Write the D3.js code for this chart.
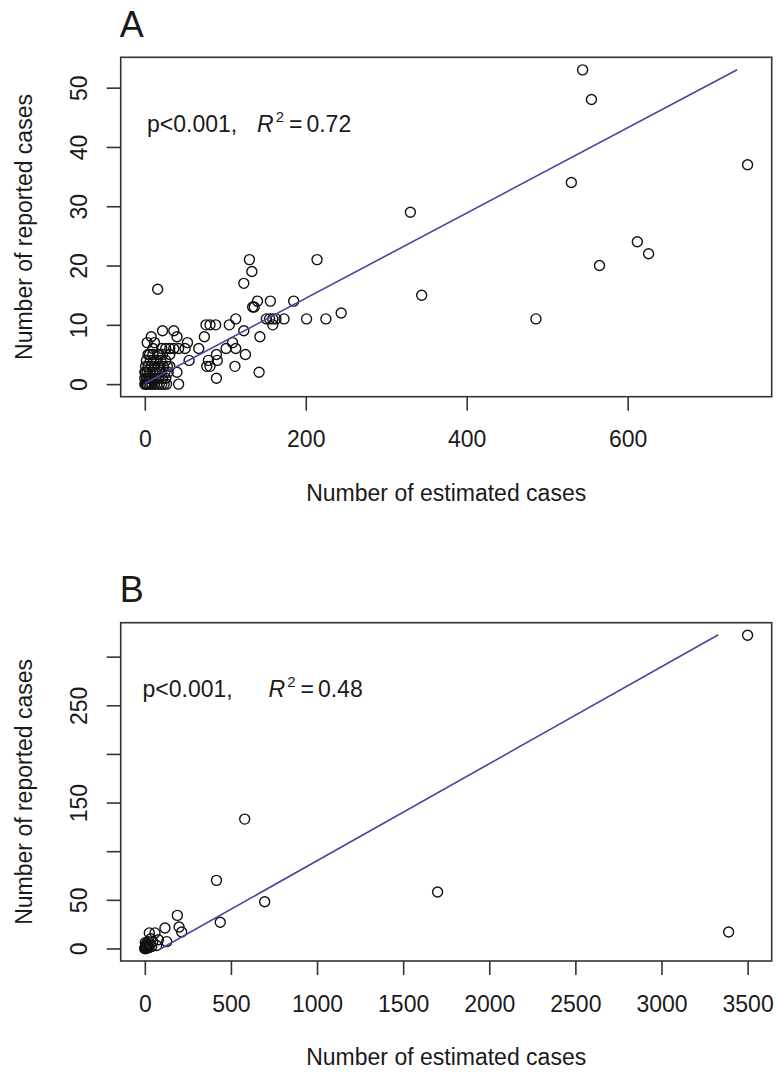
<!DOCTYPE html>
<html>
<head>
<meta charset="utf-8">
<script src="https://cdn.jsdelivr.net/npm/d3@7"></script>
<style>
  html, body { margin: 0; padding: 0; background: #fff; }
  svg { display: block; }
  text { font-family: "Liberation Sans", Arial, sans-serif; fill: #1a1a1a; }
</style>
</head>
<body>
<svg id="chart" width="776" height="1072"></svg>
<script>
// ---------------- DATA ----------------
// Panel A: [estimated, reported]
const pointsA = [
  [544,53],[555,48],[749,37],[530,34],[330,29],[214,21],[130,21],[133,19],[123,17],[16,16],
  [612,24],[626,22],[565,20],[344,15],[486,11],[244,12],[225,11],[201,11],[185,14],[173,11],
  [156,14],[140,14],[134,13],[136,13],[151,11],[155,11],[159,11],[163,11],[159,10],[113,11],
  [105,10],[123,9],[76,10],[81,10],[88,10],[74,8],[143,8],[109,7],[113,6],[101,6],
  [125,5],[89,5],[90,4],[77,3],[81,3],[79,4],[89,1],[112,3],[142,2],[55,4],
  [67,6],[53,7],[50,6],[42,6],[36,6],[31,6],[22,9],[36,9],[40,8],[12,7],
  [21,6],[6,5],[16,5],[22,5],[31,5],[42,0],[40,2],[31,3],
  [0,0],[1,0],[2,0],[3,0],[5,0],[7,0],[9,0],[12,0],[15,0],[18,0],[21,0],[24,0],[27,0],
  [0,1],[2,1],[4,1],[6,1],[9,1],[13,1],[17,1],[22,1],[26,1],
  [0,2],[1,2],[3,2],[6,2],[10,2],[14,2],[19,2],[25,2],[29,2],
  [1,3],[4,3],[8,3],[12,3],[17,3],[23,3],[28,3],
  [2,4],[7,4],[11,4],[15,4],[20,4],[26,4],
  [4,5],[10,5],[18,5],[26,6],[10,6],[3,7],[8,8]
];
// Panel B: [estimated, reported]
const pointsB = [
  [3500,322],[580,133],[416,70],[1700,58],[696,48],[438,27],[3390,17],[189,34],[199,22],[214,17],
  [117,21],[127,7],[59,16],[26,16],[79,9],[69,3],[46,7],[35,10],[12,5],[5,3],
  [2,1],[0,0],[8,0],[15,4],[20,2],[3,6],[25,1],[30,4],[40,2],[6,2],
  [1,0],[10,1],[4,0],[18,7]
];
// Fitted lines
const fitA = { intercept: 0.1, slope: 0.0719, from: 0, to: 736 };
const fitB = { intercept: -9.5, slope: 0.0997, from: 85, to: 3330 };

// Ticks
const xTicksA = [0, 200, 400, 600];
const yTicksA = [0, 10, 20, 30, 40, 50];
const xTicksB = [0, 500, 1000, 1500, 2000, 2500, 3000, 3500];
const yTicksB = [0, 50, 100, 150, 200, 250, 300];
const yTickLabelsB = ["0", "50", "", "150", "", "250", ""];

// Texts
const panelLabels = ["A", "B"];
const pTexts = ["p<0.001,", "p<0.001,"];
const r2Values = ["0.72", "0.48"];
const xTitle = "Number of estimated cases";
const yTitle = "Number of reported cases";

// ---------------- DRAW ----------------
const svg = d3.select("#chart");
const FS = 23;
const axisColor = "#333";

function rDomain(vals) {
  const [lo, hi] = d3.extent(vals);
  const pad = (hi - lo) * 0.04;
  return [lo - pad, hi + pad];
}

function panel(cfg) {
  const { box, pts, fit, xTicks, yTicks, yLabels, label, pText, r2, annot } = cfg;
  const g = svg.append("g");
  const x = d3.scaleLinear().domain(rDomain(pts.map(d => d[0]))).range([box.x0, box.x1]);
  const y = d3.scaleLinear().domain(rDomain(pts.map(d => d[1]))).range([box.y1, box.y0]);

  // panel label
  g.append("text").attr("x", box.x0 - 1).attr("y", box.y0 - 20.5)
    .attr("font-size", 36).text(label);

  // points
  g.append("g").selectAll("circle").data(pts).join("circle")
    .attr("cx", d => x(d[0])).attr("cy", d => y(d[1])).attr("r", 5)
    .attr("fill", "none").attr("stroke", "#111").attr("stroke-width", 1.4);

  // fit line
  g.append("line")
    .attr("x1", x(fit.from)).attr("y1", y(fit.intercept + fit.slope * fit.from))
    .attr("x2", x(fit.to)).attr("y2", y(fit.intercept + fit.slope * fit.to))
    .attr("stroke", "#46469e").attr("stroke-width", 1.6);

  // box
  g.append("rect").attr("x", box.x0).attr("y", box.y0)
    .attr("width", box.x1 - box.x0).attr("height", box.y1 - box.y0)
    .attr("fill", "none").attr("stroke", axisColor).attr("stroke-width", 1.6);

  // x axis (bottom)
  const xAxis = d3.axisBottom(x).tickValues(xTicks).tickSize(14).tickPadding(0).tickFormat(d3.format("d"));
  const xa = g.append("g").attr("transform", `translate(0,${box.y1})`).call(xAxis);
  xa.select(".domain").remove();
  xa.selectAll(".tick line").attr("stroke", axisColor).attr("stroke-width", 1.6);
  xa.selectAll(".tick text").attr("font-size", FS).attr("font-family", '"Liberation Sans", Arial, sans-serif')
    .attr("fill", "#1a1a1a").attr("dy", null).attr("y", 50.5);

  // y axis (left)
  const yAxis = d3.axisLeft(y).tickValues(yTicks).tickSize(14).tickPadding(0)
    .tickFormat((d, i) => yLabels ? yLabels[i] : d3.format("d")(d));
  const ya = g.append("g").attr("transform", `translate(${box.x0},0)`).call(yAxis);
  ya.select(".domain").remove();
  ya.selectAll(".tick line").attr("stroke", axisColor).attr("stroke-width", 1.6);
  ya.selectAll(".tick text").attr("font-size", FS).attr("font-family", '"Liberation Sans", Arial, sans-serif')
    .attr("fill", "#1a1a1a").attr("x", null).attr("dy", null)
    .attr("text-anchor", "middle")
    .attr("transform", `translate(${87.3 - box.x0},0) rotate(-90)`);

  // titles
  g.append("text").attr("x", (box.x0 + box.x1) / 2).attr("y", box.y1 + 104)
    .attr("text-anchor", "middle").attr("font-size", FS).text(xTitle);
  g.append("text")
    .attr("transform", `translate(32,${(box.y0 + box.y1) / 2}) rotate(-90)`)
    .attr("text-anchor", "middle").attr("font-size", FS).text(yTitle);

  // annotation
  g.append("text").attr("x", annot.px).attr("y", annot.y).attr("font-size", FS).text(pText);
  const t = g.append("text").attr("x", annot.rx).attr("y", annot.y).attr("font-size", FS);
  t.append("tspan").attr("font-style", "italic").text("R");
  t.append("tspan").attr("font-size", 15).attr("dy", -10).attr("dx", 2).text("2");
  t.append("tspan").attr("dy", 10).attr("dx", 5).text("=");
  t.append("tspan").attr("dx", 4).text(r2);
}

panel({
  box: { x0: 120.7, x1: 771.7, y0: 57.3, y1: 396.7 },
  pts: pointsA, fit: fitA, xTicks: xTicksA, yTicks: yTicksA, yLabels: null,
  label: panelLabels[0], pText: pTexts[0], r2: r2Values[0],
  annot: { px: 147, rx: 257, y: 131.5 }
});
panel({
  box: { x0: 120.7, x1: 771.7, y0: 622.7, y1: 961 },
  pts: pointsB, fit: fitB, xTicks: xTicksB, yTicks: yTicksB, yLabels: yTickLabelsB,
  label: panelLabels[1], pText: pTexts[1], r2: r2Values[1],
  annot: { px: 142.5, rx: 268.5, y: 696.5 }
});
</script>
</body>
</html>
